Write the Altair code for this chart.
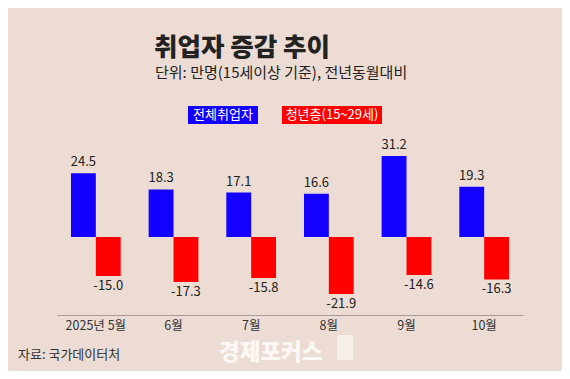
import altair as alt
import pandas as pd

months = ["2025년 5월", "6월", "7월", "8월", "9월", "10월"]
total = [24.5, 18.3, 17.1, 16.6, 31.2, 19.3]
youth = [-15.0, -17.3, -15.8, -21.9, -14.6, -16.3]
series = ["전체취업자", "청년층(15~29세)"]
colors = ["#1400ff", "#ff0000"]

rows = []
for m, t, y in zip(months, total, youth):
    rows.append({"month": m, "series": series[0], "value": t})
    rows.append({"month": m, "series": series[1], "value": y})
df = pd.DataFrame(rows)

FONT = "Noto Sans CJK KR"

x = alt.X("month:N", sort=months, title=None,
          scale=alt.Scale(paddingInner=0.36, paddingOuter=0.18),
          axis=alt.Axis(labelAngle=0, ticks=False, domainColor="#a89a95",
                        labelFontSize=12.5, labelColor="#333333", labelFont=FONT,
                        labelPadding=4))
xo = alt.XOffset("series:N", sort=series, scale=alt.Scale(paddingInner=0))
y = alt.Y("value:Q", scale=alt.Scale(domain=[-30, 35], nice=False), axis=None)

base = alt.Chart(df).transform_calculate(
    label="replace(format(datum.value, '.1f'), '\u2212', '-')"
)

bars = base.mark_bar(stroke=None).encode(
    x=x, xOffset=xo, y=y, y2=alt.datum(0),
    color=alt.Color("series:N", sort=series,
                    scale=alt.Scale(domain=series, range=colors), legend=None),
)

lab_pos = base.transform_filter(alt.datum.value >= 0).mark_text(
    baseline="bottom", dy=-4, fontSize=13, font=FONT, color="#222222"
).encode(x=x, xOffset=xo, y=y, text="label:N")

lab_neg = base.transform_filter(alt.datum.value < 0).mark_text(
    baseline="top", dy=4, fontSize=13, font=FONT, color="#222222"
).encode(x=x, xOffset=xo, y=y, text="label:N")

one = pd.DataFrame({"a": [0]})
ann = alt.Chart(one)

title = ann.mark_text(text="취업자 증감 추이", align="left", baseline="alphabetic",
                      fontSize=25.5, fontWeight=900, font=FONT, color="#222222").encode(
    x=alt.value(97), y=alt.value(-90))
subtitle = ann.mark_text(text="단위: 만명(15세이상 기준), 전년동월대비", align="left",
                         baseline="alphabetic", fontSize=15, font=FONT, color="#222222").encode(
    x=alt.value(98), y=alt.value(-68))

leg_blue = ann.mark_rect(color=colors[0]).encode(
    x=alt.value(131), x2=alt.value(201), y=alt.value(-40), y2=alt.value(-22))
leg_red = ann.mark_rect(color=colors[1]).encode(
    x=alt.value(225), x2=alt.value(325), y=alt.value(-40), y2=alt.value(-22))
leg_blue_t = ann.mark_text(text=series[0], align="center", baseline="middle",
                           fontSize=13, font=FONT, color="white").encode(
    x=alt.value(166), y=alt.value(-31))
leg_red_t = ann.mark_text(text=series[1], align="center", baseline="middle",
                          fontSize=13, font=FONT, color="white").encode(
    x=alt.value(275), y=alt.value(-31))

source = ann.mark_text(text="자료: 국가데이터처", align="left", baseline="alphabetic",
                       fontSize=13, font=FONT, color="#333333").encode(
    x=alt.value(-39), y=alt.value(213))

wm = ann.mark_text(text="경제포커스", align="left", baseline="alphabetic",
                   fontSize=22.5, fontWeight=900, font=FONT, color="white", opacity=0.8).encode(
    x=alt.value(162), y=alt.value(214))
wm_box = ann.mark_rect(color="white", opacity=0.5).encode(
    x=alt.value(280), x2=alt.value(296), y=alt.value(189), y2=alt.value(214))

chart = alt.layer(
    bars, lab_pos, lab_neg, title, subtitle, leg_blue, leg_red, leg_blue_t, leg_red_t,
    source, wm, wm_box
).properties(
    width=466, height=169,
    padding={"left": 49, "top": 138, "right": 39, "bottom": 56},
    autosize=alt.AutoSizeParams(type="none"),
    background="#ecdcd3",
).configure_view(stroke=None)

chart.save("out.html", embed_options={"renderer": "svg", "actions": False})
